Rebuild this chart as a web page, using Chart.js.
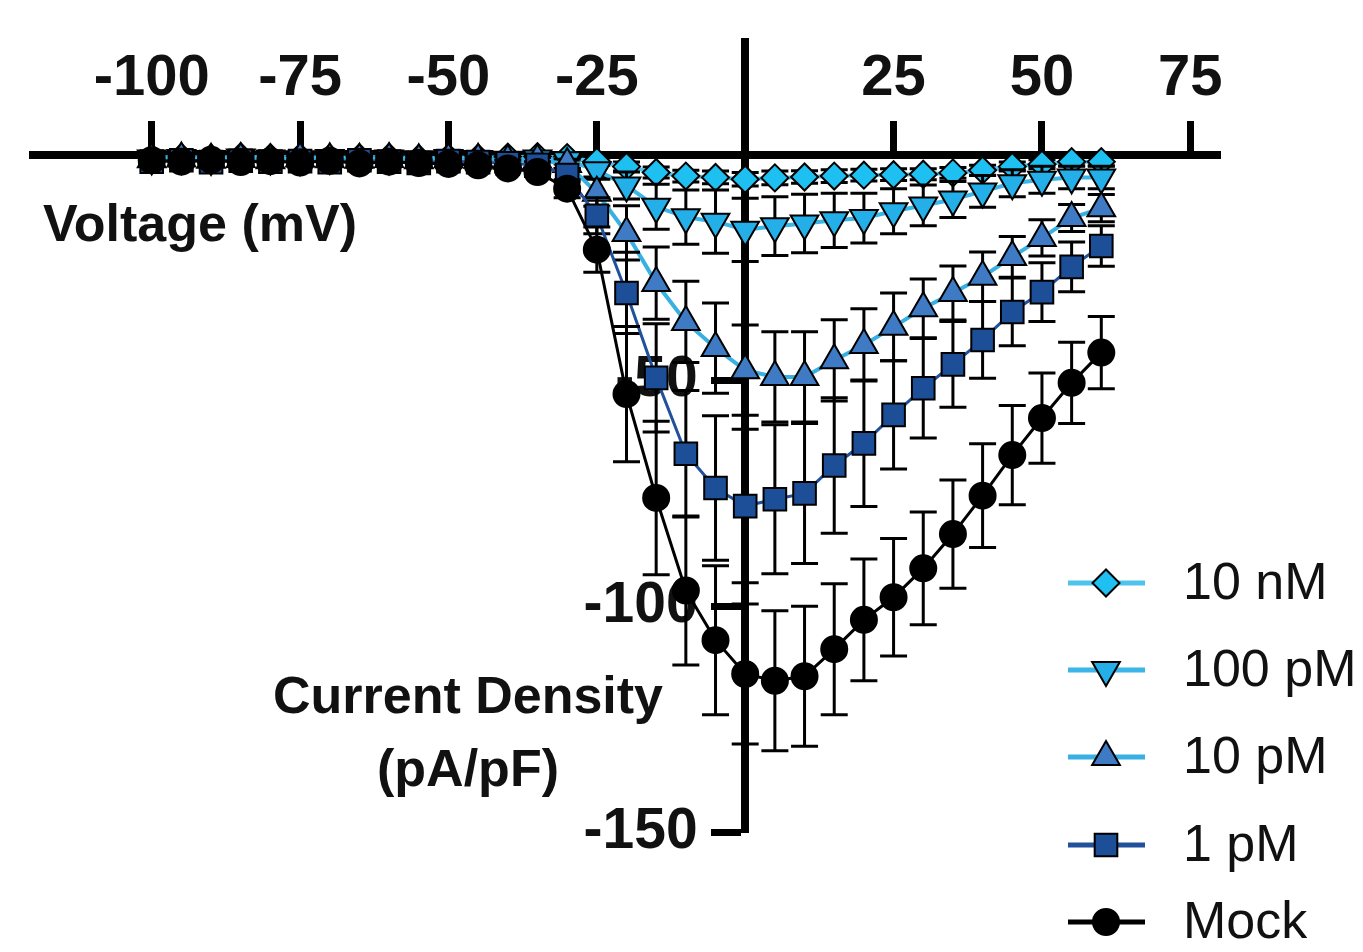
<!DOCTYPE html>
<html>
<head>
<meta charset="utf-8">
<script src="https://cdn.jsdelivr.net/npm/chart.js@4.4.1/dist/chart.umd.min.js"></script>
<style>
  html, body { margin: 0; padding: 0; background: #ffffff; }
  #wrap { width: 1363px; height: 952px; position: relative; }
</style>
</head>
<body>
<div id="wrap"><canvas id="c" width="1363" height="952"></canvas></div>
<script>
// ---------------- DATA ----------------
const voltages = [-100,-95,-90,-85,-80,-75,-70,-65,-60,-55,-50,-45,-40,-35,-30,-25,-20,-15,-10,-5,0,5,10,15,20,25,30,35,40,45,50,55,60];

const seriesNames = ['10 nM', '100 pM', '10 pM', '1 pM', 'Mock'];

const nM10    = [-0.6,-0.5,-0.7,-0.4,-0.6,-0.5,-0.7,-0.6,-0.5,-0.8,-0.6,-0.7,-0.5,-0.4,-0.6,-1.5,-2.6,-3.9,-4.7,-5.0,-5.4,-5.1,-4.9,-4.7,-4.5,-4.4,-4.3,-4.0,-3.4,-2.6,-2.1,-1.5,-1.5];
const nM10Err = [0.5,0.5,0.5,0.5,0.5,0.5,0.5,0.5,0.5,0.5,0.5,0.5,0.5,0.5,0.6,0.8,1.0,1.2,1.3,1.4,1.5,1.5,1.4,1.4,1.3,1.3,1.2,1.2,1.1,1.0,1.0,0.9,0.9];

const pM100    = [-0.8,-0.7,-0.9,-0.6,-0.8,-1.0,-0.7,-0.9,-0.8,-1.0,-0.7,-0.9,-1.1,-0.8,-1.2,-3.4,-6.8,-11.5,-13.8,-14.8,-16.6,-15.8,-15.2,-14.5,-14.0,-12.5,-11.2,-9.9,-8.1,-6.3,-5.5,-5.0,-5.0];
const pM100Err = [0.6,0.6,0.6,0.6,0.6,0.6,0.6,0.6,0.6,0.6,0.6,0.6,0.6,0.6,0.8,1.5,3.0,5.0,6.0,7.0,7.0,6.5,6.5,6.0,5.5,5.0,4.5,4.0,3.5,3.0,3.0,2.5,2.5];

const pM10    = [-1.0,-0.8,-1.1,-0.9,-1.2,-0.8,-1.0,-1.1,-0.9,-1.2,-1.0,-1.1,-1.3,-1.2,-2.0,-8.4,-17.3,-28.4,-37.0,-42.8,-47.7,-49.2,-49.2,-45.5,-42.1,-38.1,-34.0,-30.6,-27.0,-22.6,-18.4,-14.0,-11.8];
const pM10Err = [0.6,0.6,0.6,0.6,0.6,0.6,0.6,0.6,0.6,0.6,0.6,0.6,0.6,0.6,1.0,3.0,6.0,8.0,9.0,10.0,10.0,10.0,10.0,9.0,8.0,7.5,6.5,6.0,5.5,4.5,4.0,3.0,3.0];

const pM1    = [-1.5,-1.2,-1.6,-1.3,-1.5,-1.4,-1.6,-1.2,-1.5,-1.8,-1.4,-1.6,-1.9,-2.2,-4.5,-13.5,-30.6,-49.4,-66.2,-73.8,-77.8,-76.3,-75.0,-68.8,-63.9,-57.6,-51.7,-46.4,-41.0,-34.8,-30.4,-24.8,-20.2];
const pM1Err = [0.7,0.7,0.7,0.7,0.7,0.7,0.7,0.7,0.7,0.7,0.7,0.7,0.7,0.7,1.5,4.0,9.0,12.0,14.0,16.0,17.0,16.5,15.5,15.0,14.0,12.0,11.0,9.5,8.5,7.5,6.5,5.5,4.5];

const mock    = [-1.2,-1.5,-1.1,-1.6,-1.4,-1.7,-1.3,-1.9,-1.5,-1.8,-2.0,-2.3,-3.0,-3.8,-7.5,-21.0,-53.0,-76.0,-96.5,-107.5,-115.0,-116.5,-115.5,-109.5,-103.0,-98.0,-91.6,-84.0,-75.5,-66.5,-58.3,-50.5,-43.8];
const mockErr = [0.8,0.8,0.8,0.8,0.8,0.8,0.8,0.8,0.8,0.8,0.8,0.8,0.8,1.0,2.0,5.0,15.0,17.0,16.5,16.5,15.5,15.5,15.5,14.5,13.5,13.0,12.5,12.0,11.5,11.0,10.0,9.0,8.0];

const xTickValues = [-100, -75, -50, -25, 0, 25, 50, 75];
const yTickValues = [-150, -100, -50, 0];
const xTitle = 'Voltage (mV)';
const yTitleLines = ['Current Density', '(pA/pF)'];

// ---------------- STYLES ----------------
const seriesValues = [nM10, pM100, pM10, pM1, mock];
const seriesErrors = [nM10Err, pM100Err, pM10Err, pM1Err, mockErr];
const seriesStyles = [
  { line: '#4fc3ee', fill: '#1ec0f2', point: 'rectRot',  radius: 13.5, rotation: 0,   lw: 4, order: 5 },
  { line: '#3cb6e6', fill: '#25afe8', point: 'triangle', radius: 16,   rotation: 180, lw: 4, order: 4 },
  { line: '#38b0e2', fill: '#3f7bc4', point: 'triangle', radius: 16,   rotation: 0,   lw: 4, order: 3 },
  { line: '#22519c', fill: '#1c4f98', point: 'rect',     radius: 16,   rotation: 0,   lw: 3, order: 2 },
  { line: '#000000', fill: '#000000', point: 'circle',   radius: 13,   rotation: 0,   lw: 3, order: 1 }
];

const FONT = '"Liberation Sans", Arial, Helvetica, sans-serif';

const datasets = seriesNames.map((name, s) => ({
  label: name,
  data: voltages.map((v, i) => ({ x: v, y: seriesValues[s][i] })),
  errors: seriesErrors[s],
  styleIndex: s,
  order: seriesStyles[s].order,
  borderColor: seriesStyles[s].line,
  borderWidth: seriesStyles[s].lw,
  backgroundColor: seriesStyles[s].fill,
  pointStyle: seriesStyles[s].point,
  pointRadius: seriesStyles[s].radius,
  pointRotation: seriesStyles[s].rotation,
  pointBackgroundColor: seriesStyles[s].fill,
  pointBorderColor: '#000000',
  pointBorderWidth: 2,
  tension: 0,
  fill: false,
  clip: false
}));

// error bars, drawn just before each dataset
const errorBarPlugin = {
  id: 'errorBars',
  beforeDatasetDraw(chart, args) {
    const ds = chart.data.datasets[args.index];
    const errs = ds.errors;
    if (!errs) return;
    const xs = chart.scales.x, ys = chart.scales.y, ctx = chart.ctx;
    const cap = 13.5;
    ctx.save();
    ctx.strokeStyle = '#000000';
    ctx.lineWidth = 3;
    ctx.lineCap = 'butt';
    ds.data.forEach((p, i) => {
      const e = errs[i];
      if (!e) return;
      const px = xs.getPixelForValue(p.x);
      const yT = ys.getPixelForValue(p.y + e);
      const yB = ys.getPixelForValue(p.y - e);
      ctx.beginPath();
      ctx.moveTo(px, yT); ctx.lineTo(px, yB);
      ctx.moveTo(px - cap, yT); ctx.lineTo(px + cap, yT);
      ctx.moveTo(px - cap, yB); ctx.lineTo(px + cap, yB);
      ctx.stroke();
    });
    ctx.restore();
  }
};

function drawMarker(ctx, style, x, y) {
  if (Chart.helpers && Chart.helpers.drawPoint) {
    Chart.helpers.drawPoint(ctx, { pointStyle: style.point, radius: style.radius, rotation: style.rotation, borderWidth: 2 }, x, y);
  }
}

// legend + axis titles
const decorPlugin = {
  id: 'decor',
  afterDraw(chart) {
    const ctx = chart.ctx;
    ctx.save();
    // axis titles
    ctx.fillStyle = '#111111';
    ctx.font = 'bold 52px ' + FONT;
    ctx.textBaseline = 'alphabetic';
    ctx.textAlign = 'left';
    ctx.fillText(xTitle, 43, 241);
    ctx.textAlign = 'center';
    ctx.fillText(yTitleLines[0], 468, 713);
    ctx.fillText(yTitleLines[1], 468, 786);
    // legend
    const rowY = [583, 670, 757, 845, 922];
    chart.data.datasets.forEach((ds, i) => {
      const st = seriesStyles[ds.styleIndex];
      const y = rowY[i];
      ctx.strokeStyle = st.line;
      ctx.lineWidth = 5;
      ctx.beginPath();
      ctx.moveTo(1068, y); ctx.lineTo(1145, y);
      ctx.stroke();
      ctx.fillStyle = st.fill;
      ctx.strokeStyle = '#000000';
      ctx.lineWidth = 2;
      drawMarker(ctx, st, 1106, y);
      ctx.fillStyle = '#111111';
      ctx.font = '52px ' + FONT;
      ctx.textAlign = 'left';
      ctx.textBaseline = 'middle';
      ctx.fillText(ds.label, 1183, y + 2);
    });
    ctx.restore();
  }
};

new Chart(document.getElementById('c'), {
  type: 'line',
  data: { datasets },
  plugins: [errorBarPlugin, decorPlugin],
  options: {
    responsive: false,
    animation: false,
    events: [],
    layout: { padding: { left: 33, right: 143, top: 42, bottom: 120 } },
    plugins: { legend: { display: false }, tooltip: { enabled: false } },
    scales: {
      x: {
        type: 'linear',
        min: -120, max: 80,
        position: { y: 0 },
        afterBuildTicks: (scale) => { scale.ticks = xTickValues.map(v => ({ value: v })); },
        grid: { display: true, drawOnChartArea: false, drawTicks: true, tickLength: -38, tickWidth: 7, tickColor: '#000000' },
        border: { display: true, width: 8, color: '#000000' },
        ticks: {
          autoSkip: false, maxRotation: 0, mirror: true, padding: -3,
          color: '#111111',
          font: { family: FONT, size: 58, weight: 'bold' },
          callback: (v) => (v === 0 ? '' : String(v))
        }
      },
      y: {
        type: 'linear',
        min: -150, max: 25,
        position: { x: 0 },
        afterBuildTicks: (scale) => { scale.ticks = yTickValues.map(v => ({ value: v })); },
        grid: { display: true, drawOnChartArea: false, drawTicks: true, tickLength: 30, tickWidth: 7, tickColor: '#000000' },
        border: { display: true, width: 8, color: '#000000' },
        ticks: {
          autoSkip: false,
          color: '#111111',
          font: { family: FONT, size: 57, weight: 'bold' },
          callback: (v) => (v === 0 ? '' : String(v) + '\u00a0\u00a0\u00a0')
        }
      }
    }
  }
});
</script>
</body>
</html>
